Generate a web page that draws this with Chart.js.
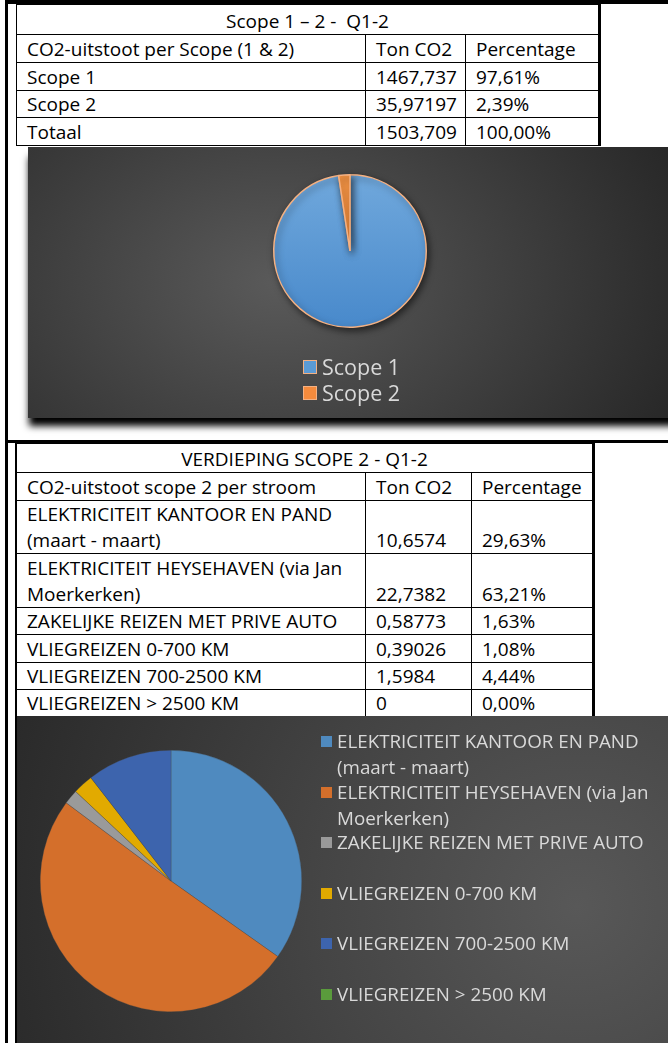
<!DOCTYPE html>
<html>
<head>
<meta charset="utf-8">
<script src="https://cdn.jsdelivr.net/npm/chart.js@4"></script>
<style>
  html, body { margin: 0; padding: 0; background: #fff; }
  body { width: 668px; height: 1043px; position: relative; overflow: hidden; font-family: "Open Sans", Lato, sans-serif; }
  .lijn { position: absolute; background: #000; }
  table { position: absolute; border-collapse: collapse; table-layout: fixed; font-size: 19px; color: #000; }
  td { border: 1px solid #000; padding: 0 0 0 10px; line-height: 26px; white-space: pre; overflow: hidden; vertical-align: bottom; }
  td.titel { text-align: center; padding: 0; }
  .paneel { position: absolute; overflow: hidden; }
  #paneel1 { left: 28px; top: 147px; width: 700px; height: 271px;
    background: radial-gradient(ellipse 440px 310px at 250px 135px, #5a5a5a 0%, #3e3e3e 55%, #272727 100%);
    box-shadow: 0 9px 7px -1px #000; overflow: visible; }
  #paneel2 { left: 17px; top: 716px; width: 651px; height: 327px;
    background: radial-gradient(circle 640px at 560px 190px, #585858 0%, #454545 40%, #262626 100%); }
  canvas { position: absolute; left: 0; top: 0; }
  .legenda { position: absolute; color: #d9d9d9; }
  .item { display: flex; align-items: flex-start; }
  .vak { flex: none; box-sizing: border-box; }
  #legenda1 { left: 303px; top: 354px; font-size: 21.5px; }
  #legenda1 .item { height: 26px; line-height: 26px; align-items: center; }
  #legenda1 .vak { width: 14px; height: 14px; border: 1.5px solid #f4b183; margin-right: 5px; }
  #legenda2 { left: 321px; top: 728px; font-size: 18.8px; }
  #legenda2 .item { height: 50.6px; line-height: 26px; }
  #legenda2 .vak { width: 11px; height: 11px; margin: 8px 5px 0 0; }
  #legenda2 .tekst { white-space: nowrap; }
</style>
</head>
<body>
<div class="lijn" style="left:5px;top:0;width:2.5px;height:1043px"></div>
<div class="lijn" style="left:5px;top:0;width:663px;height:4px"></div>
<div class="lijn" style="left:5px;top:440px;width:663px;height:3px"></div>
<div class="lijn" style="left:15px;top:443px;width:2px;height:600px"></div>

<table id="tabel1" style="left:16px;top:4px;width:583px;border-right:3px solid #000"></table>

<div class="paneel" id="paneel1"><canvas id="scopeChart" width="640" height="271"></canvas></div>
<div class="legenda" id="legenda1"></div>

<table id="tabel2" style="left:16px;top:443px;width:577px;border-right:3px solid #000"></table>

<div class="paneel" id="paneel2"><canvas id="stroomChart" width="651" height="327"></canvas></div>
<div class="legenda" id="legenda2"></div>

<script>
// Scope 1 - 2 tabel + taartgrafiek
const scopeTitel = 'Scope 1 \u2013 2 -  Q1-2';
const scopeKop = ['CO2-uitstoot per Scope (1 & 2)', 'Ton CO2', 'Percentage'];
const scopeNamen = ['Scope 1', 'Scope 2'];
const scopeTon = [1467.737, 35.97197];
const scopeTonTekst = ['1467,737', '35,97197'];
const scopePct = ['97,61%', '2,39%'];
const scopeTotaal = ['Totaal', '1503,709', '100,00%'];
const scopeKleuren = ['#5b9bd5', '#f58b3d'];

// Verdieping scope 2
const stroomTitel = 'VERDIEPING SCOPE 2 - Q1-2';
const stroomKop = ['CO2-uitstoot scope 2 per stroom', 'Ton CO2', 'Percentage'];
const stroomNamen = [
  ['ELEKTRICITEIT KANTOOR EN PAND', '(maart - maart)'],
  ['ELEKTRICITEIT HEYSEHAVEN (via Jan', 'Moerkerken)'],
  ['ZAKELIJKE REIZEN MET PRIVE AUTO'],
  ['VLIEGREIZEN 0-700 KM'],
  ['VLIEGREIZEN 700-2500 KM'],
  ['VLIEGREIZEN > 2500 KM']
];
const stroomTonTekst = ['10,6574', '22,7382', '0,58773', '0,39026', '1,5984', '0'];
const stroomPct = ['29,63%', '63,21%', '1,63%', '1,08%', '4,44%', '0,00%'];
// aandeel (%) zoals de taart in de grafiek het toont
const stroomAandeelGrafiek = [34.8, 50.4, 1.8, 2.5, 10.5, 0];
const stroomKleuren = ['#4f8abf', '#d46f2b', '#9a9a9a', '#e2aa00', '#3d64ad', '#5a9b3c'];

function esc(s) { return s.replace(/&/g, '&amp;').replace(/</g, '&lt;').replace(/>/g, '&gt;'); }

function vulTabel(id, titel, kop, rijen, breedtes, hoogtes) {
  const t = document.getElementById(id);
  let html = '<colgroup>' + breedtes.map(b => `<col style="width:${b}px">`).join('') + '</colgroup>';
  html += `<tr style="height:${hoogtes[0]}px"><td class="titel" colspan="3">${esc(titel)}</td></tr>`;
  html += `<tr style="height:${hoogtes[1]}px">` + kop.map(k => `<td>${esc(k)}</td>`).join('') + '</tr>';
  rijen.forEach((r, i) => {
    html += `<tr style="height:${hoogtes[i + 2]}px">` +
      `<td>${r[0].map(esc).join('<br>')}</td><td>${r[1]}</td><td>${r[2]}</td></tr>`;
  });
  t.innerHTML = html;
}

vulTabel('tabel1', scopeTitel, scopeKop,
  scopeNamen.map((n, i) => [[n], scopeTonTekst[i], scopePct[i]]).concat([[[scopeTotaal[0]], scopeTotaal[1], scopeTotaal[2]]]),
  [349, 100, 134], [30, 28, 28, 27, 28]);
vulTabel('tabel2', stroomTitel, stroomKop,
  stroomNamen.map((n, i) => [n, stroomTonTekst[i], stroomPct[i]]),
  [349, 106, 122], [29, 28, 53, 54, 27, 28, 27, 27]);

// schaduw onder de taart
const taartSchaduw = {
  id: 'taartSchaduw',
  beforeDatasetsDraw(chart) {
    const ctx = chart.ctx;
    ctx.save();
    ctx.shadowColor = 'rgba(0,0,0,0.55)';
    ctx.shadowBlur = 7;
    ctx.shadowOffsetX = 2;
    ctx.shadowOffsetY = 3;
  },
  afterDatasetsDraw(chart) { chart.ctx.restore(); }
};

const scopeChart = new Chart(document.getElementById('scopeChart'), {
  type: 'pie',
  data: {
    labels: scopeNamen,
    datasets: [{
      data: scopeTon,
      backgroundColor: c => {
        const area = c.chart.chartArea;
        if (!area) return scopeKleuren[c.dataIndex];
        const g = c.chart.ctx.createLinearGradient(0, area.top, 0, area.bottom);
        if (c.dataIndex === 0) { g.addColorStop(0, '#70a8dc'); g.addColorStop(1, '#4889cb'); }
        else { g.addColorStop(0, '#f79646'); g.addColorStop(1, '#ee7f2d'); }
        return g;
      },
      borderColor: '#f4b183',
      borderWidth: 1.5,
      hoverOffset: 0
    }]
  },
  options: {
    responsive: false,
    animation: false,
    layout: { padding: { top: 27, bottom: 90, left: 4, right: 0 } },
    plugins: { legend: { display: false }, tooltip: { enabled: false } }
  },
  plugins: [taartSchaduw]
});

const stroomChart = new Chart(document.getElementById('stroomChart'), {
  type: 'pie',
  data: {
    labels: stroomNamen,
    datasets: [{
      data: stroomAandeelGrafiek,
      backgroundColor: stroomKleuren,
      borderColor: 'rgba(70,70,70,0.6)',
      borderWidth: 0.5,
      hoverOffset: 0
    }]
  },
  options: {
    responsive: false,
    animation: false,
    layout: { padding: { top: 34, bottom: 31, left: 23, right: 366 } },
    plugins: { legend: { display: false }, tooltip: { enabled: false } }
  }
});

// html legenda's op basis van de grafiekdata
function maakLegenda(chart, id, kleuren) {
  const el = document.getElementById(id);
  el.innerHTML = chart.data.labels.map((lab, i) => {
    const regels = Array.isArray(lab) ? lab : [lab];
    return `<div class="item"><div class="vak" style="background:${kleuren[i]}"></div>` +
      `<div class="tekst">${regels.map(esc).join('<br>')}</div></div>`;
  }).join('');
}
maakLegenda(scopeChart, 'legenda1', ['#5b9bd5', '#f58b3d']);
maakLegenda(stroomChart, 'legenda2', stroomKleuren);
</script>
</body>
</html>
